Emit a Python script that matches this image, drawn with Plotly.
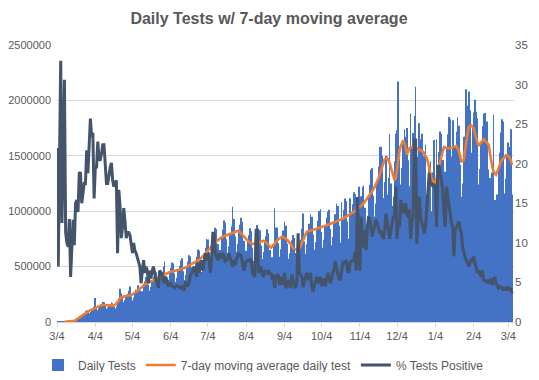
import pandas as pd
import plotly.graph_objects as go
from plotly.subplots import make_subplots

start_date = "2020-03-04"

# Daily tests (thousands), one value per day from 2020-03-04
daily_tests_k = [
    2, 2, 3, 3, 2, 2, 3,
    3, 3, 5, 5, 5, 5, 7,
    10, 18, 30, 37, 38, 38, 50,
    66, 81, 99, 107, 92, 79, 91,
    110, 124, 140, 216, 124, 107, 123,
    150, 164, 181, 178, 146, 119, 130,
    150, 162, 176, 170, 141, 122, 142,
    180, 211, 300, 259, 216, 179, 198,
    232, 254, 281, 320, 231, 195, 220,
    263, 292, 330, 334, 285, 242, 277,
    334, 366, 406, 403, 337, 282, 316,
    373, 409, 453, 449, 375, 312, 349,
    413, 453, 502, 545, 413, 343, 382,
    448, 487, 537, 527, 437, 361, 400,
    467, 505, 555, 575, 458, 380, 424,
    499, 544, 602, 592, 494, 410, 458,
    539, 589, 654, 646, 542, 452, 511,
    607, 670, 748, 745, 629, 527, 593,
    700, 767, 850, 840, 703, 583, 649,
    763, 832, 915, 897, 746, 615, 682,
    796, 864, 1040, 929, 772, 637, 706,
    825, 877, 942, 903, 734, 594, 644,
    737, 783, 847, 819, 670, 551, 609,
    709, 875, 844, 828, 688, 569, 631,
    726, 775, 838, 802, 649, 523, 585,
    690, 1026, 853, 851, 711, 589, 656,
    770, 826, 905, 868, 706, 571, 619,
    702, 738, 785, 759, 622, 507, 563,
    660, 742, 841, 980, 727, 616, 701,
    818, 887, 972, 951, 789, 651, 721,
    841, 913, 1002, 1017, 813, 671, 743,
    868, 942, 995, 1012, 840, 693, 768,
    897, 973, 1068, 1047, 869, 718, 1080,
    931, 1013, 1114, 1093, 908, 751, 1116,
    975, 1063, 1172, 1152, 960, 796, 1221,
    1040, 1134, 1221, 1232, 1032, 859, 960,
    1131, 1238, 1374, 1387, 1140, 953, 1070,
    1266, 1402, 1580, 1582, 1500, 1119, 1264,
    1500, 1150, 1300, 1700, 1250, 1050, 1130,
    1450, 1700, 1730, 2170, 1470, 1240, 1390,
    1640, 1740, 1672, 1750, 1460, 1225, 1880,
    1577, 1706, 1860, 2124, 1490, 1218, 1793,
    1650, 1700, 1150, 1500, 1600, 1150, 1200,
    1400, 1450, 1000, 1350, 1643, 1000, 1650,
    1360, 1534, 1720, 1700, 1463, 1232, 1355,
    1570, 1695, 1850, 1830, 1493, 1820, 1360,
    1585, 1717, 1847, 1771, 1420, 1131, 1251,
    1670, 1674, 2100, 1955, 2080, 1910, 1527,
    1763, 1890, 2006, 1898, 1840, 1240, 1380,
    1620, 1766, 1880, 1886, 1549, 1810, 1376,
    1300, 1200, 1350, 1870, 1100, 950, 1150,
    1380, 1528, 1711, 1830, 1810, 1160, 1294,
    1503, 1620, 1580, 1740, 1150,
]

# 7-day moving average (thousands), starts on the 7th day (2020-03-10)
avg_start_offset = 6
moving_avg_k = [
    2, 3, 3, 4, 4, 5, 7, 8,
    10, 17, 25, 32, 40, 49, 58,
    66, 75, 84, 93, 97, 101, 106,
    110, 115, 119, 123, 130, 137, 143,
    150, 152, 153, 155, 154, 152, 151,
    150, 150, 149, 148, 148, 156, 165,
    180, 195, 210, 225, 227, 229, 230,
    232, 235, 238, 240, 243, 250, 256,
    263, 270, 280, 290, 300, 310, 322,
    334, 339, 344, 350, 355, 361, 367,
    373, 379, 384, 390, 395, 400, 406,
    413, 419, 425, 430, 435, 440, 444,
    448, 451, 455, 458, 460, 463, 465,
    467, 468, 470, 476, 482, 487, 493,
    499, 504, 510, 515, 520, 526, 533,
    539, 545, 554, 562, 571, 580, 594,
    607, 620, 634, 648, 662, 676, 690,
    700, 710, 720, 730, 740, 748, 755,
    763, 770, 775, 780, 785, 789, 793,
    796, 800, 804, 808, 813, 817, 821,
    825, 812, 798, 785, 773, 761, 749,
    737, 725, 718, 712, 705, 706, 708,
    709, 710, 715, 720, 724, 729, 734,
    726, 718, 710, 697, 683, 670, 680,
    690, 707, 723, 740, 748, 755, 763,
    770, 765, 760, 755, 743, 732, 720,
    702, 683, 665, 660, 655, 650, 655,
    660, 687, 713, 740, 765, 790, 815,
    818, 821, 824, 827, 830, 834, 838,
    841, 845, 849, 853, 856, 860, 864,
    868, 872, 876, 880, 884, 888, 893,
    897, 901, 905, 910, 915, 920, 925,
    931, 938, 944, 950, 956, 963, 969,
    975, 984, 993, 1002, 1011, 1021, 1030,
    1040, 1050, 1061, 1071, 1086, 1101, 1116,
    1131, 1146, 1164, 1182, 1200, 1222, 1244,
    1266, 1298, 1330, 1365, 1400, 1435, 1470,
    1475, 1480, 1460, 1440, 1395, 1350, 1315,
    1280, 1300, 1400, 1500, 1545, 1590, 1615,
    1640, 1610, 1580, 1510, 1540, 1570, 1573,
    1577, 1580, 1576, 1572, 1568, 1562, 1556,
    1550, 1544, 1537, 1518, 1499, 1480, 1440,
    1400, 1345, 1290, 1270, 1250, 1275, 1300,
    1360, 1420, 1460, 1500, 1540, 1580, 1575,
    1570, 1569, 1568, 1568, 1572, 1576, 1580,
    1585, 1590, 1565, 1540, 1495, 1450, 1455,
    1460, 1550, 1640, 1700, 1760, 1768, 1775,
    1763, 1750, 1700, 1650, 1620, 1590, 1605,
    1620, 1635, 1650, 1640, 1630, 1615, 1600,
    1520, 1440, 1400, 1360, 1345, 1330, 1355,
    1380, 1415, 1450, 1460, 1470, 1488, 1505,
    1503, 1500, 1480, 1460, 1420,
]

# % of tests positive, one value per day from 2020-03-04
pct_positive = [
    22, 7, 20, 33, 12.5, 22, 30.6,
    11.3, 10, 9.5, 13, 5.7, 9, 12.9,
    9.7, 15, 15.4, 13.9, 18.8, 18.9, 15,
    16.7, 17.5, 17.5, 21.7, 18.8, 22, 25.7,
    23.4, 23.9, 15.6, 19.6, 19.6, 22.8, 20.5,
    20.5, 21.3, 22.4, 22.4, 19.6, 17.5, 17.5,
    18.8, 19.5, 20.1, 17.9, 17.1, 17.5, 17.9,
    8.7, 16.7, 14.6, 10.6, 12, 14.4, 12.7,
    10.6, 11.3, 11.3, 11.0, 9.5, 8.7, 10,
    9, 8.7, 8.2, 7.8, 7.0, 4.9, 6.5,
    7.8, 6.2, 7.0, 6.5, 4.9, 6.5, 5.5,
    6.5, 7.0, 6.2, 5.3, 5.0, 4.3, 6.5,
    6.2, 6.0, 5.3, 4.9, 5.7, 5.0, 4.5,
    4.8, 4.9, 4.6, 4.5, 4.3, 4.5, 4.6,
    4.5, 4.4, 4.3, 4.5, 4.2, 4.0, 5.1,
    4.8, 4.5, 5.2, 6.0, 6.2, 6.5, 7.0,
    6.4, 5.7, 7.5, 6.2, 7.0, 7.8, 6.5,
    8.0, 8.7, 7.8, 8.7, 7.8, 6.2, 8,
    11.2, 11.2, 8.7, 8.2, 7.8, 8.7, 8,
    8.3, 8.7, 8.3, 7.7, 7.8, 8, 8.7,
    8.2, 7.8, 7.0, 7.8, 7.2, 7.8, 8.3,
    8.7, 8.5, 8.3, 7.5, 6.5, 7.0, 7.7,
    7.8, 7.8, 7.7, 8.0, 6.2, 5.9, 5.7,
    11.6, 11.6, 6.2, 6.6, 7.0, 6.0, 5.7,
    6.5, 6.3, 6.2, 6.5, 6.0, 6.2, 5.3,
    6.0, 4.3, 5.7, 5.9, 6.0, 4.7, 5.7,
    5.0, 4.7, 6.2, 4.5, 4.3, 5.3, 4.6,
    4.5, 6.0, 5.3, 4.5, 4.3, 5.3, 11.2,
    6.2, 6.0, 5.7, 4.4, 5.3, 5.8, 6.2,
    5.3, 5.8, 6.2, 4.5, 3.8, 4.5, 5.3,
    5.7, 5.2, 4.9, 5.7, 4.5, 5.0, 5.5,
    4.5, 5.7, 6.2, 5.5, 4.9, 5.3, 6.3,
    6.5, 7.7, 6.8, 6.0, 5.5, 5.3, 6.5,
    7.3, 7.7, 7.5, 7.8, 6.5, 6.2, 7.5,
    7.7, 7.8, 7.8, 8.8, 6.5, 15.8, 9.1,
    6.5, 13.3, 9.4, 11.6, 11.2, 9.1, 12,
    13.3, 12.9, 12.0, 10.8, 11.6, 12.3, 12.9,
    12.5, 12.0, 11.2, 11.6, 10.8, 10.5, 11.5,
    13.7, 12.7, 11.5, 10.5, 11.6, 12.5, 13.3,
    13.5, 17.1, 10.5, 12.9, 12.0, 15.4, 14.8,
    13.7, 14.5, 15.0, 13.5, 13.3, 14.2, 10.5,
    12.5, 13.3, 23.0, 23.0, 9.9, 12.9, 15.8,
    13.3, 12.5, 11.6, 11.2, 12.0, 14.2, 16.7,
    18.8, 17.5, 17.5, 17.1, 17.5, 16.7, 12.0,
    19.8, 19.6, 18.8, 17.5, 16.7, 13.7, 12.0,
    17.1, 15.8, 14.6, 13.3, 12.5, 12.0, 8.3,
    11.6, 12.0, 12.5, 12.7, 11.8, 11.2, 9.5,
    8.7, 8.2, 7.8, 7.5, 7.0, 7.5, 7.8,
    7.7, 8.3, 7.5, 7.0, 6.2, 6.5, 6.0,
    5.7, 6.5, 5.3, 5.2, 5.1, 5.3, 4.9,
    5.2, 5.5, 4.7, 5.3, 5.7, 4.9, 4.6,
    4.3, 4.5, 4.4, 4.3, 4.0, 4.3, 4.3,
    4.0, 4.5, 4.0, 4.3, 3.6,
]

tick_labels = ["3/4", "4/4", "5/4", "6/4", "7/4", "8/4", "9/4",
               "10/4", "11/4", "12/4", "1/4", "2/4", "3/4"]

n_days = max(len(daily_tests_k), len(pct_positive), avg_start_offset + len(moving_avg_k))
dates = pd.date_range(start_date, periods=n_days, freq="D")
tick_dates = pd.date_range(start_date, periods=len(tick_labels), freq=pd.DateOffset(months=1))

tests = [v * 1000 for v in daily_tests_k]
avg = [v * 1000 for v in moving_avg_k]

GRAY = "#595959"
GRID = "#D9D9D9"
FONT = "Liberation Sans"

# page body adds an 8px margin, so the figure is sized to fit inside the window
W, H = 523, 364

fig = make_subplots(specs=[[{"secondary_y": True}]])

fig.add_trace(go.Bar(
    x=dates[:len(tests)], y=tests, name="Daily Tests",
    marker=dict(color="#4472C4", line=dict(width=0)),
), secondary_y=False)

fig.add_trace(go.Scatter(
    x=dates[avg_start_offset:avg_start_offset + len(avg)], y=avg,
    name="7-day moving average daily test", mode="lines",
    line=dict(color="#ED7D31", width=2.6),
), secondary_y=False)

fig.add_trace(go.Scatter(
    x=dates[:len(pct_positive)], y=pct_positive, name="% Tests Positive",
    mode="lines", line=dict(color="#44546A", width=3),
), secondary_y=True)

fig.update_layout(
    width=W, height=H,
    margin=dict(l=49, r=17, t=37, b=50, autoexpand=False),
    paper_bgcolor="white", plot_bgcolor="white",
    bargap=0.45,
    font=dict(family=FONT, size=11, color=GRAY),
    title=dict(text="<b>Daily Tests w/ 7-day moving average</b>",
               x=0.499, xref="container", xanchor="center",
               y=1 - 10 / H, yref="container", yanchor="middle",
               font=dict(family=FONT, size=16, color=GRAY)),
    legend=dict(orientation="h", xref="container", x=255.5 / W, xanchor="center",
                yref="container", y=1 - 357 / H, yanchor="middle",
                font=dict(family=FONT, size=12, color=GRAY),
                tracegroupgap=0),
    showlegend=True,
)

fig.update_xaxes(
    type="date", automargin=False, domain=[0, 1],
    range=[pd.Timestamp(start_date), pd.Timestamp("2021-03-08 14:00")],
    tickmode="array", tickvals=list(tick_dates), ticktext=tick_labels,
    ticks="outside", ticklen=4, tickcolor=GRID,
    showline=True, linecolor=GRID, linewidth=1,
    showgrid=False, zeroline=False,
    tickfont=dict(family=FONT, size=11, color=GRAY),
)

fig.update_yaxes(
    range=[0, 2500000], dtick=500000, tickformat="d", automargin=False,
    showgrid=True, gridcolor=GRID, gridwidth=1,
    zeroline=False, showline=False, ticklabelstandoff=5,
    tickfont=dict(family=FONT, size=11, color=GRAY),
    secondary_y=False,
)

fig.update_yaxes(
    range=[0, 35], dtick=5, automargin=False,
    showgrid=False, zeroline=False, showline=False,
    tickfont=dict(family=FONT, size=11.5, color=GRAY),
    secondary_y=True,
)

fig.write_html("out.html")
